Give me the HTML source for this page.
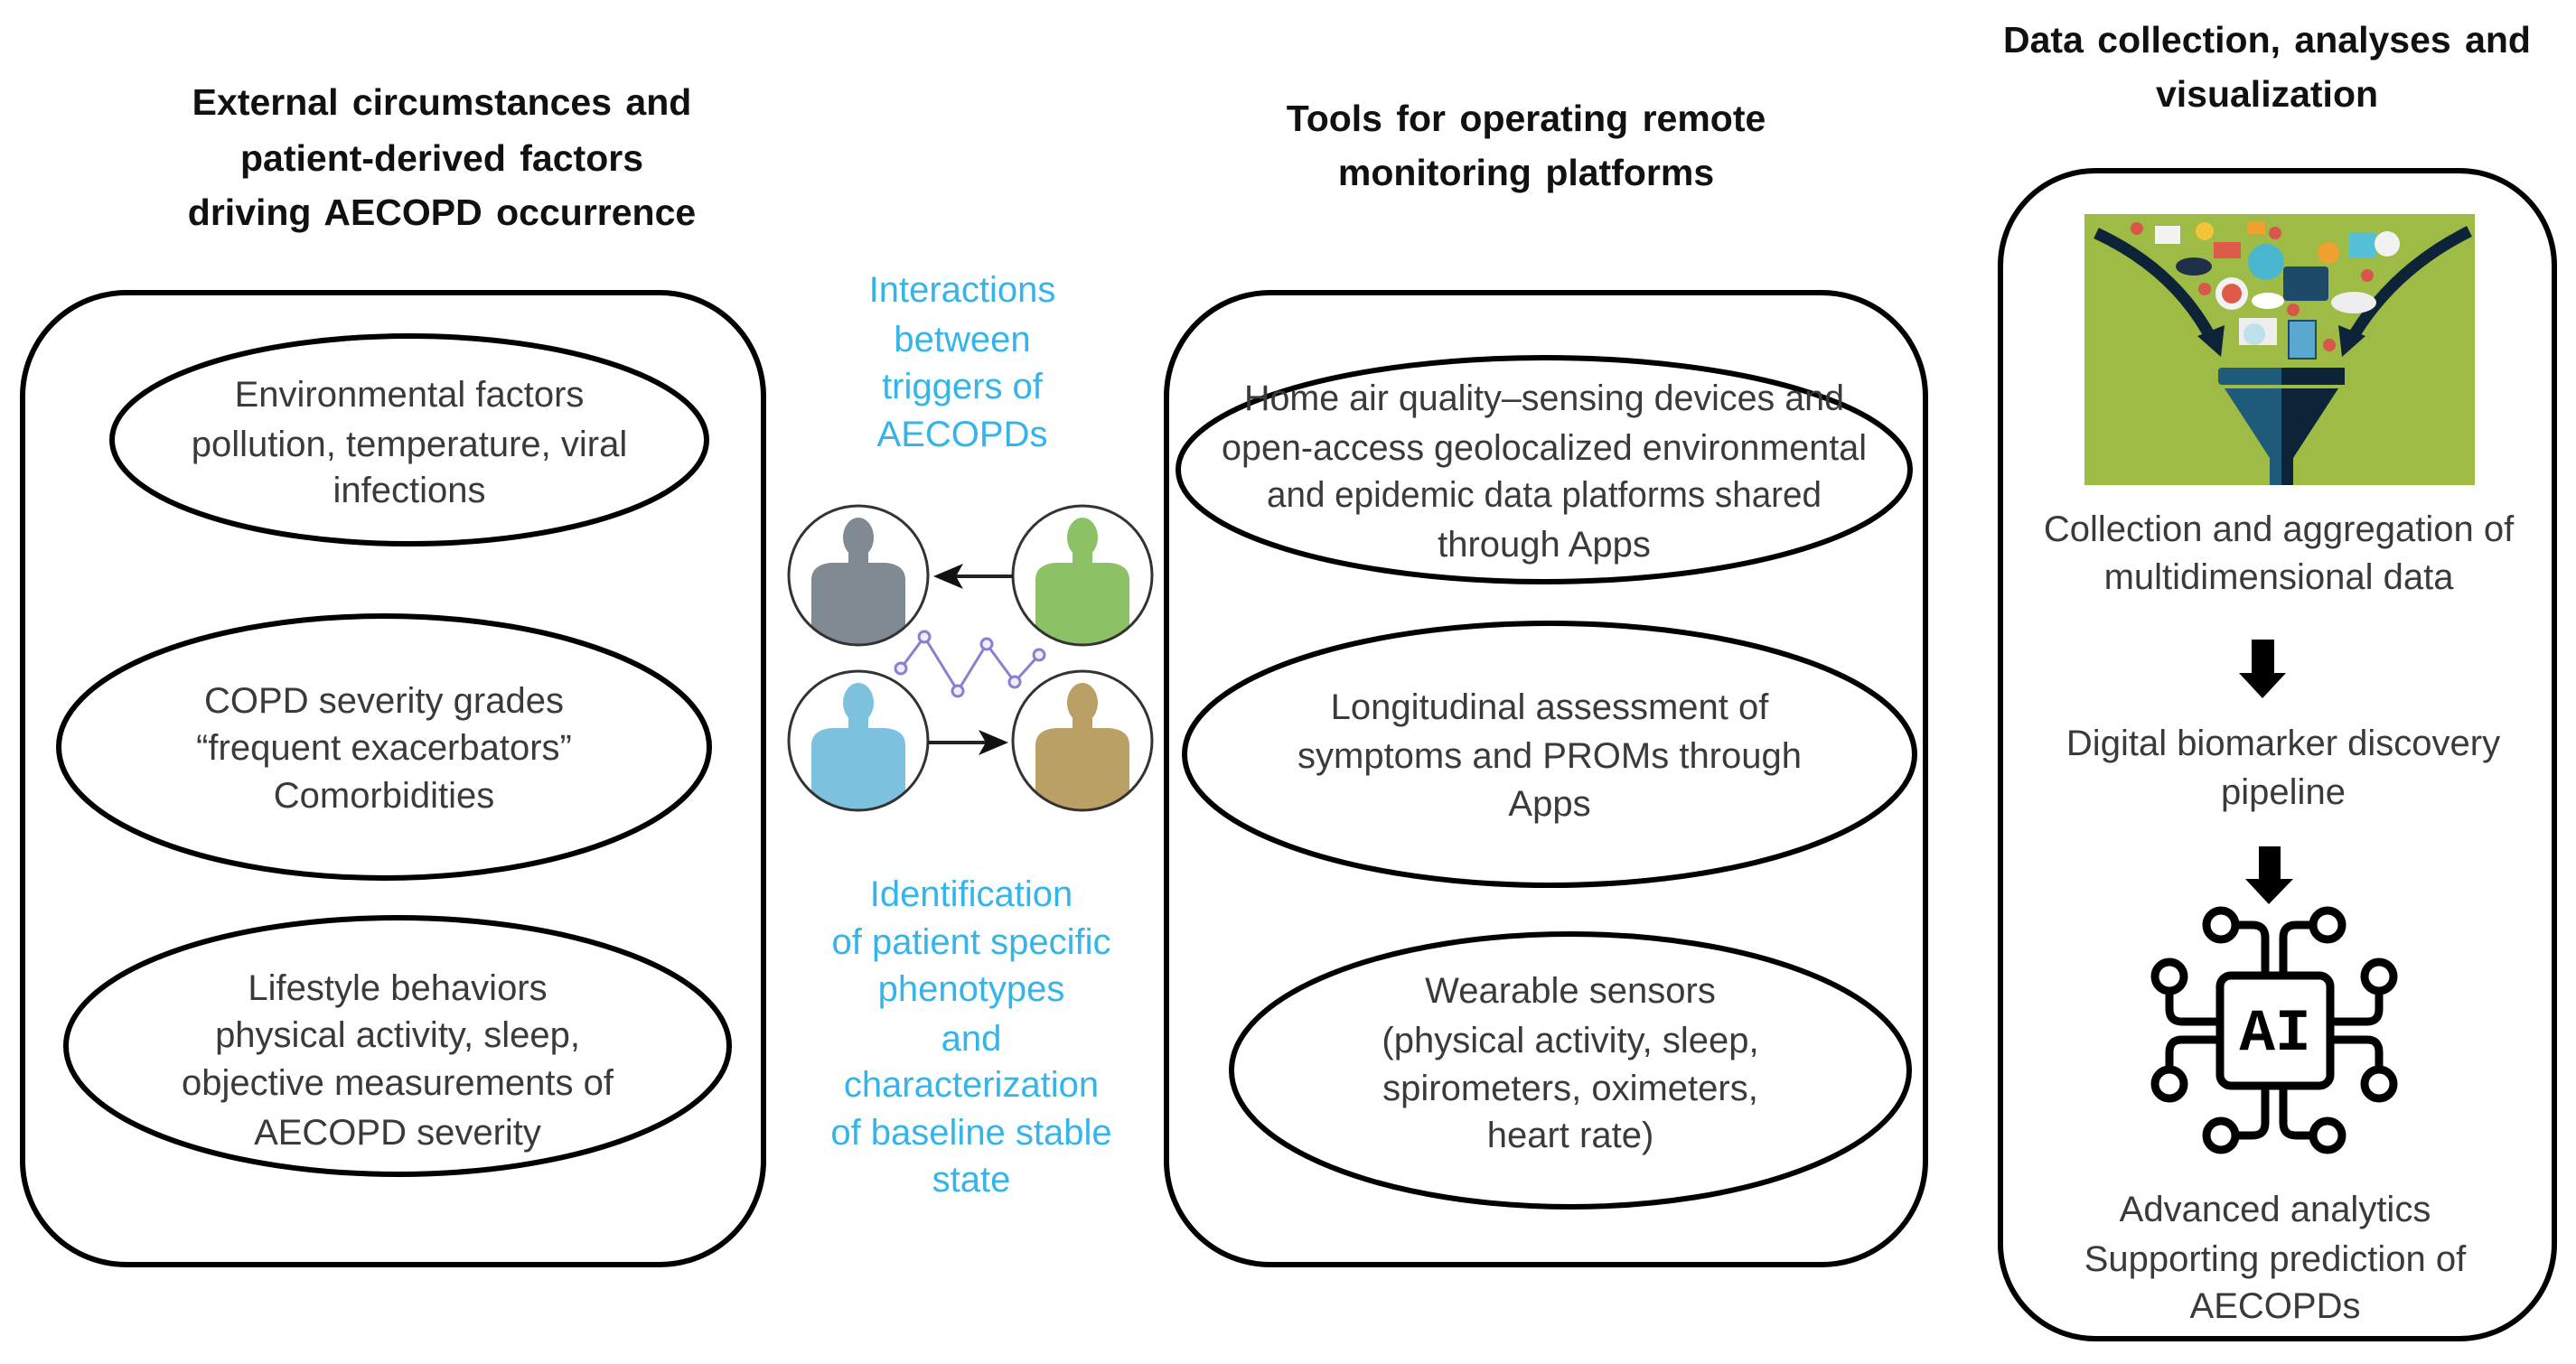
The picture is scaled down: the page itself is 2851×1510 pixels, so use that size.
<!DOCTYPE html>
<html><head><meta charset="utf-8"><style>
html,body{margin:0;padding:0;background:#fff;}
svg{display:block;}
.t{font-family:"Liberation Sans",sans-serif;font-size:40px;fill:#3a3a3a;text-anchor:middle;}
.b{font-family:"Liberation Sans",sans-serif;font-size:41px;font-weight:bold;fill:#111;text-anchor:middle;word-spacing:4px;}
.c{font-family:"Liberation Sans",sans-serif;font-size:40px;fill:#35b4ea;text-anchor:middle;}
</style></head><body>
<svg width="2851" height="1510" viewBox="0 0 2851 1510" xmlns="http://www.w3.org/2000/svg">
<defs>
<clipPath id="c1"><circle cx="950" cy="637" r="76"/></clipPath>
<clipPath id="c2"><circle cx="1198" cy="637" r="76"/></clipPath>
<clipPath id="c3"><circle cx="950" cy="820" r="76"/></clipPath>
<clipPath id="c4"><circle cx="1198" cy="820" r="76"/></clipPath>
<g id="person"><ellipse cx="0" cy="-42" rx="17" ry="22"/><rect x="-11" y="-25" width="22" height="22"/><path d="M-52 80 L-52 5 Q-52 -12 -30 -14 L30 -14 Q52 -12 52 5 L52 80 Z"/></g>
</defs>

<!-- Titles -->
<text class="b" x="489" y="127">External circumstances and</text>
<text class="b" x="489" y="189">patient-derived factors</text>
<text class="b" x="489" y="249">driving AECOPD occurrence</text>
<text class="b" x="1689" y="145">Tools for operating remote</text>
<text class="b" x="1689" y="205">monitoring platforms</text>
<text class="b" x="2509" y="58">Data collection, analyses and</text>
<text class="b" x="2509" y="118">visualization</text>

<!-- Left box -->
<rect x="25" y="324" width="820" height="1076" rx="115" fill="none" stroke="#000" stroke-width="6"/>
<ellipse cx="453" cy="487" rx="329" ry="115" fill="none" stroke="#000" stroke-width="6"/>
<text class="t" x="453" y="450">Environmental factors</text>
<text class="t" x="453" y="505">pollution, temperature, viral</text>
<text class="t" x="453" y="556">infections</text>
<ellipse cx="425" cy="827" rx="360" ry="145" fill="none" stroke="#000" stroke-width="6"/>
<text class="t" x="425" y="789">COPD severity grades</text>
<text class="t" x="425" y="841">“frequent exacerbators”</text>
<text class="t" x="425" y="894">Comorbidities</text>
<ellipse cx="440" cy="1158" rx="367" ry="142" fill="none" stroke="#000" stroke-width="6"/>
<text class="t" x="440" y="1107">Lifestyle behaviors</text>
<text class="t" x="440" y="1159">physical activity, sleep,</text>
<text class="t" x="440" y="1212">objective measurements of</text>
<text class="t" x="440" y="1267">AECOPD severity</text>

<!-- Middle blue text -->
<text class="c" x="1065" y="334">Interactions</text>
<text class="c" x="1065" y="389">between</text>
<text class="c" x="1065" y="441">triggers of</text>
<text class="c" x="1065" y="494">AECOPDs</text>
<text class="c" x="1075" y="1003">Identification</text>
<text class="c" x="1075" y="1056">of patient specific</text>
<text class="c" x="1075" y="1108">phenotypes</text>
<text class="c" x="1075" y="1163">and</text>
<text class="c" x="1075" y="1214">characterization</text>
<text class="c" x="1075" y="1267">of baseline stable</text>
<text class="c" x="1075" y="1319">state</text>

<!-- people -->
<g clip-path="url(#c1)"><use href="#person" x="950" y="637" fill="#7f8a93"/></g>
<g clip-path="url(#c2)"><use href="#person" x="1198" y="637" fill="#8cc265"/></g>
<g clip-path="url(#c3)"><use href="#person" x="950" y="820" fill="#7cc1de"/></g>
<g clip-path="url(#c4)"><use href="#person" x="1198" y="820" fill="#bba066"/></g>
<g fill="none" stroke="#333" stroke-width="3">
<circle cx="950" cy="637" r="77"/><circle cx="1198" cy="637" r="77"/>
<circle cx="950" cy="820" r="77"/><circle cx="1198" cy="820" r="77"/>
</g>
<line x1="1121" y1="638" x2="1050" y2="638" stroke="#222" stroke-width="4"/>
<polygon points="1033,638 1066,624 1058,638 1066,652" fill="#111"/>
<line x1="1027" y1="822" x2="1098" y2="822" stroke="#222" stroke-width="4"/>
<polygon points="1116,822 1083,808 1091,822 1083,836" fill="#111"/>
<polyline points="997,740 1023,705 1060,765 1092,713 1123,755 1150,725" fill="none" stroke="#8a7fd0" stroke-width="3"/>
<g fill="#f0eefa" stroke="#8a7fd0" stroke-width="3">
<circle cx="997" cy="740" r="6"/><circle cx="1023" cy="705" r="6"/><circle cx="1060" cy="765" r="6"/>
<circle cx="1092" cy="713" r="6"/><circle cx="1123" cy="755" r="6"/><circle cx="1150" cy="725" r="6"/></g>

<!-- Middle box -->
<rect x="1291" y="324" width="840" height="1076" rx="115" fill="none" stroke="#000" stroke-width="6"/>
<ellipse cx="1709" cy="520" rx="405" ry="124" fill="none" stroke="#000" stroke-width="6"/>
<text class="t" x="1709" y="454" textLength="664" lengthAdjust="spacingAndGlyphs">Home air quality–sensing devices and</text>
<text class="t" x="1709" y="509" textLength="714" lengthAdjust="spacingAndGlyphs">open-access geolocalized environmental</text>
<text class="t" x="1709" y="561" textLength="614" lengthAdjust="spacingAndGlyphs">and epidemic data platforms shared</text>
<text class="t" x="1709" y="616">through Apps</text>
<ellipse cx="1715" cy="835" rx="404" ry="145" fill="none" stroke="#000" stroke-width="6"/>
<text class="t" x="1715" y="796">Longitudinal assessment of</text>
<text class="t" x="1715" y="850">symptoms and PROMs through</text>
<text class="t" x="1715" y="903">Apps</text>
<ellipse cx="1738" cy="1185" rx="375" ry="151" fill="none" stroke="#000" stroke-width="6"/>
<text class="t" x="1738" y="1110">Wearable sensors</text>
<text class="t" x="1738" y="1165">(physical activity, sleep,</text>
<text class="t" x="1738" y="1218">spirometers, oximeters,</text>
<text class="t" x="1738" y="1270">heart rate)</text>

<!-- Right box -->
<rect x="2214" y="189" width="613" height="1293" rx="105" fill="none" stroke="#000" stroke-width="6"/>
<rect x="2307" y="237" width="432" height="300" fill="#9dbb45"/>
<path d="M2320 258 Q2410 300 2450 380" fill="none" stroke="#0d2438" stroke-width="13"/>
<polygon points="2432,372 2458,395 2462,360" fill="#0d2438"/>
<path d="M2733 256 Q2645 300 2600 380" fill="none" stroke="#0d2438" stroke-width="13"/>
<polygon points="2618,372 2592,395 2588,360" fill="#0d2438"/>
<g>
<circle cx="2365" cy="253" r="7" fill="#d9574a"/><rect x="2385" y="250" width="28" height="20" fill="#f2f2f2"/>
<circle cx="2440" cy="256" r="10" fill="#f3c43a"/><rect x="2450" y="268" width="30" height="18" fill="#e05a4a"/>
<rect x="2487" y="245" width="20" height="14" fill="#f0a030"/><circle cx="2518" cy="258" r="7" fill="#d9574a"/>
<circle cx="2508" cy="290" r="20" fill="#4bb6d0"/><rect x="2527" y="295" width="50" height="38" rx="4" fill="#1e4a6a"/>
<circle cx="2577" cy="280" r="12" fill="#f0a030"/><rect x="2600" y="258" width="30" height="28" fill="#56c0d8"/>
<circle cx="2642" cy="270" r="14" fill="#f2f2f2"/><circle cx="2620" cy="305" r="7" fill="#d9574a"/>
<circle cx="2470" cy="325" r="18" fill="#f2f2f2"/><circle cx="2470" cy="325" r="11" fill="#e05a4a"/>
<ellipse cx="2510" cy="333" rx="18" ry="9" fill="#fff"/><ellipse cx="2605" cy="335" rx="25" ry="12" fill="#eee"/>
<circle cx="2440" cy="320" r="7" fill="#d9574a"/><ellipse cx="2428" cy="295" rx="20" ry="10" fill="#1e3048"/>
<rect x="2478" y="352" width="42" height="30" fill="#eee"/><circle cx="2495" cy="370" r="12" fill="#bfe0ea"/>
<rect x="2533" y="355" width="30" height="42" fill="#5aa8d0" stroke="#1e4a6a" stroke-width="2"/>
<circle cx="2538" cy="343" r="7" fill="#d9574a"/><circle cx="2578" cy="382" r="7" fill="#d9574a"/>
</g>
<rect x="2455" y="407" width="140" height="19" rx="4" fill="#1e5a7a"/>
<rect x="2525" y="407" width="70" height="19" fill="#0d2438"/>
<polygon points="2462,430 2525,430 2525,537 2512,537 2512,507" fill="#1e5a7a"/>
<polygon points="2525,430 2588,430 2538,507 2538,537 2525,537" fill="#0d2438"/>

<text class="t" x="2522" y="599">Collection and aggregation of</text>
<text class="t" x="2522" y="652">multidimensional  data</text>
<rect x="2492" y="708" width="25" height="38" fill="#000"/>
<polygon points="2478,745 2530,745 2504,773" fill="#000"/>
<text class="t" x="2527" y="836">Digital biomarker discovery</text>
<text class="t" x="2527" y="890">pipeline</text>
<rect x="2500" y="937" width="24" height="37" fill="#000"/>
<polygon points="2485,973 2538,973 2511,1001" fill="#000"/>

<!-- AI icon -->
<g fill="none" stroke="#000" stroke-width="9" stroke-linejoin="round">
<rect x="2457" y="1080" width="122" height="122" rx="12"/>
<path d="M2507 1080 V1038 Q2507 1024 2493 1024 H2475"/>
<path d="M2527 1080 V1038 Q2527 1024 2541 1024 H2559"/>
<path d="M2507 1202 V1243 Q2507 1257 2493 1257 H2475"/>
<path d="M2527 1202 V1243 Q2527 1257 2541 1257 H2559"/>
<path d="M2457 1131 H2415 Q2401 1131 2401 1117 V1098"/>
<path d="M2457 1151 H2415 Q2401 1151 2401 1165 V1183"/>
<path d="M2579 1131 H2620 Q2633 1131 2633 1117 V1098"/>
<path d="M2579 1151 H2620 Q2633 1151 2633 1165 V1183"/>
<circle cx="2458" cy="1024" r="16"/><circle cx="2576" cy="1024" r="16"/>
<circle cx="2458" cy="1257" r="16"/><circle cx="2576" cy="1257" r="16"/>
<circle cx="2401" cy="1081" r="16"/><circle cx="2401" cy="1200" r="16"/>
<circle cx="2633" cy="1081" r="16"/><circle cx="2633" cy="1200" r="16"/>
</g>
<text x="2518" y="1162" font-family="Liberation Mono, monospace" font-weight="bold" font-size="66" text-anchor="middle" fill="#000">AI</text>

<text class="t" x="2518" y="1352">Advanced analytics</text>
<text class="t" x="2518" y="1407">Supporting prediction of</text>
<text class="t" x="2518" y="1459">AECOPDs</text>
</svg>
</body></html>
